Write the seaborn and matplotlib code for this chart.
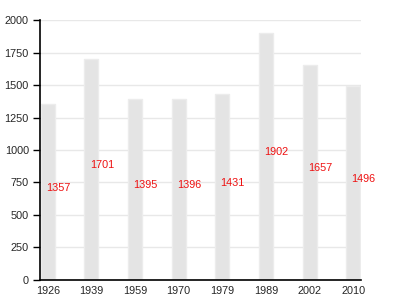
import matplotlib
matplotlib.use("Agg")
import matplotlib.pyplot as plt
import seaborn as sns
import pandas as pd

years = ["1926", "1939", "1959", "1970", "1979", "1989", "2002", "2010"]
values = [1357, 1701, 1395, 1396, 1431, 1902, 1657, 1496]
yticks = [0, 250, 500, 750, 1000, 1250, 1500, 1750, 2000]

df = pd.DataFrame({"year": years, "value": values})

sns.set_style("white")
plt.rcParams["font.family"] = ["Liberation Sans", "DejaVu Sans"]

fig = plt.figure(figsize=(4, 3), dpi=100)
ax = fig.add_axes([0.1, 0.0667, 0.8025, 0.8666])
sns.barplot(data=df, x="year", y="value", color="#e4e4e4", saturation=1,
            width=0.32, ax=ax, zorder=2)
for p in ax.patches:
    p.set_edgecolor("#ececec")
    p.set_linewidth(1.0)

ax.set_ylim(0, 2000)
ax.set_xlim(-0.18, 7.18)
ax.set_yticks(yticks)
ax.set_yticklabels([str(t) for t in yticks])
ax.yaxis.grid(True, color="#e8e8e8", linewidth=1, zorder=0)
ax.set_axisbelow(True)
ax.set_xlabel("")
ax.set_ylabel("")

for i, v in enumerate(values):
    ax.annotate(str(v), (i, v / 2), xytext=(7.5, 3), textcoords="offset points",
                ha="center", va="center", color="#ee1111", fontsize=7.8)

for s in ["top", "right"]:
    ax.spines[s].set_visible(False)
for s in ["left", "bottom"]:
    ax.spines[s].set_color("black")
    ax.spines[s].set_linewidth(1.2)

ax.tick_params(axis="y", length=5, width=1, color="black", labelsize=7.8, pad=3, direction="out", left=True)
ax.tick_params(axis="x", length=0, labelsize=7.8, pad=4)

fig.savefig("out.png", dpi=100)
